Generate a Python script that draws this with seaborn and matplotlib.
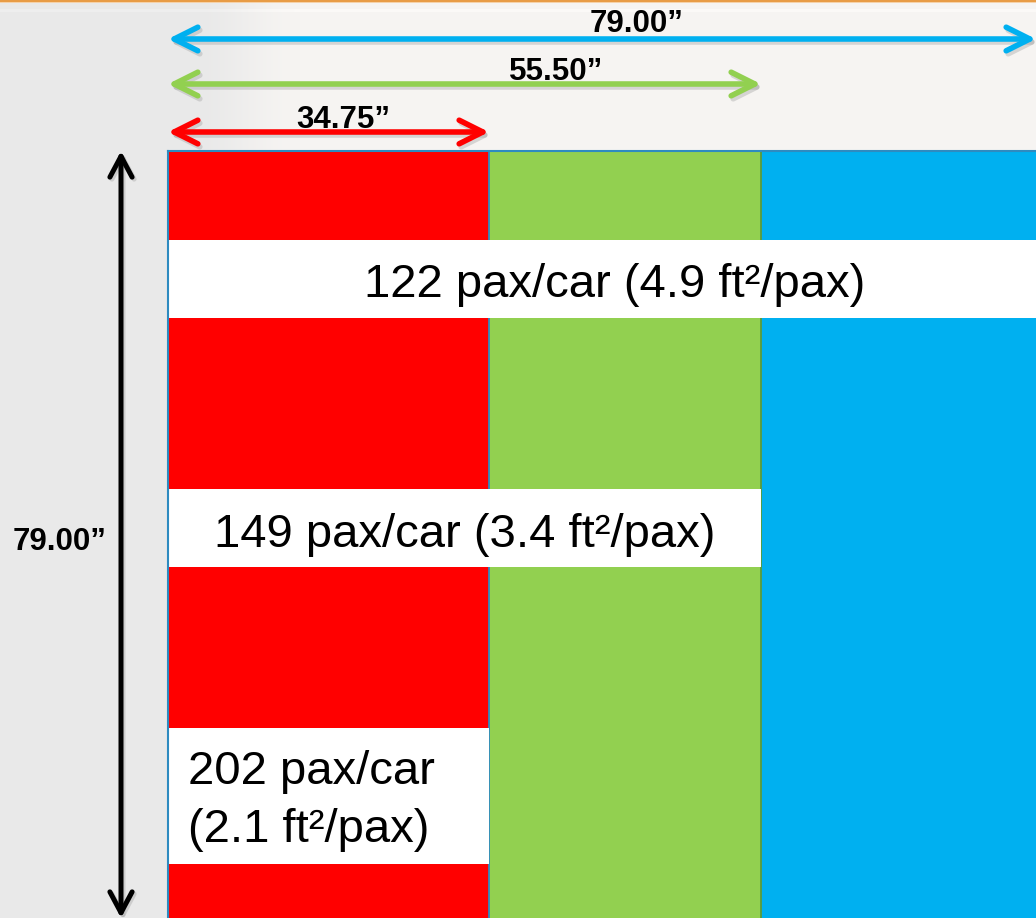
import numpy as np
import matplotlib
matplotlib.use("Agg")
import matplotlib.pyplot as plt
import seaborn as sns
from matplotlib.patches import FancyArrowPatch, ArrowStyle
from matplotlib.transforms import Affine2D, blended_transform_factory, offset_copy

# ---------------- data ----------------
widths_in = [34.75, 55.50, 79.00]          # car interior widths (inches)
depth_in = 79.00                            # depth shown on the vertical arrow (inches)
pax_per_car = [202, 149, 122]
ft2_per_pax = [2.1, 3.4, 4.9]
colors = ["#ff0000", "#92d050", "#00b0f0"]

# ---------------- layout (pixels / drawing only) ----------------
W, H = 1036, 918
box_left, box_top, box_right = 168, 151, 1036
drawn_px = [0, 321, 593, 868]               # drawn offsets of 0 / 34.75 / 55.5 / 79 in
band_center = [66.4, 38.8, 13.2]            # label bands (inches from top)
band_height = [14.0, 8.0, 8.0]
arrow_y_px = [132, 84, 39]
dimlab_px = [(343, 128), (556, 80), (637, 32)]

sns.set_theme(style="white")
plt.rcParams['font.family'] = ['Liberation Sans', 'DejaVu Sans']

fig = plt.figure(figsize=(W / 100, H / 100), dpi=100)
fig.patch.set_facecolor('#e9e9e9')
PX = Affine2D().scale(1 / W, -1 / H).translate(0, 1) + fig.transFigure

# ---------------- background ----------------
bg = fig.add_axes([0, 0, 1, 1], zorder=0)
bg.set_axis_off()
xx = np.arange(W)
fx = np.clip((xx - 190) / 110.0, 0, 1)
fx = fx * fx * (3 - 2 * fx)
base = np.array([233, 233, 233]) / 255.0
light = np.array([246, 244, 242]) / 255.0
img = np.ones((H, W, 3)) * base
img = img + (light - base)[None, None, :] * fx[None, :, None]
img[0:2, :, :] = np.array([232, 156, 70]) / 255.0
img[2, :, :] = np.array([245, 210, 170]) / 255.0
img[9:12, :, :] = np.clip(img[9:12, :, :] + 0.02, 0, 1)
bg.imshow(img, extent=(0, W, H, 0), aspect='auto', interpolation='bilinear')
bg.set_xlim(0, W)
bg.set_ylim(H, 0)

# ---------------- main axes (inches, piecewise drawn scale) ----------------
knots_in = [0.0] + widths_in
ax = fig.add_axes([box_left / W, 0, (box_right - box_left) / W, (H - box_top) / H], zorder=1)
ax.set_facecolor('none')
ax.set_xscale('function', functions=(lambda v: np.interp(v, knots_in, drawn_px),
                                     lambda p: np.interp(p, drawn_px, knots_in)))
ax.set_xlim(0, widths_in[-1])
ax.set_ylim(depth_in, 0)

edge = '#2e8bc0'
for w, c in sorted(zip(widths_in, colors), reverse=True):
    ax.bar(0, depth_in, width=w, align='edge', color=c, edgecolor='none',
           linewidth=0, zorder=1)
ax.vlines(widths_in[0], 0, depth_in, color=edge, linewidth=1.3, zorder=1.5)
ax.vlines(widths_in[1], 0, depth_in, color='#5a9a3a', linewidth=1.3, zorder=1.5)

ax.barh(band_center, widths_in, height=band_height, left=0, color='white',
        edgecolor='none', zorder=2)

ax.set_xticks([])
ax.set_yticks([])
for s in ['right', 'bottom']:
    ax.spines[s].set_visible(False)
for s in ['left', 'top']:
    ax.spines[s].set_color(edge)
    ax.spines[s].set_linewidth(1.5)
    ax.spines[s].set_zorder(3)

# ---------------- labels in bands ----------------
lab = [f"{p} pax/car ({d} ft\u00b2/pax)" for p, d in zip(pax_per_car, ft2_per_pax)]
fs = 34
fig.text(615 / W, 1 - 297 / H, lab[2], ha='center', va='baseline', fontsize=fs, color='black', zorder=5)
fig.text(465 / W, 1 - 547 / H, lab[1], ha='center', va='baseline', fontsize=fs, color='black', zorder=5)
l1, l2 = f"{pax_per_car[0]} pax/car", f"({ft2_per_pax[0]} ft\u00b2/pax)"
fig.text(188 / W, 1 - 784 / H, l1, ha='left', va='baseline', fontsize=fs, color='black', zorder=5)
fig.text(188 / W, 1 - 842 / H, l2, ha='left', va='baseline', fontsize=fs, color='black', zorder=5)

# ---------------- dimension arrows ----------------
blend_h = blended_transform_factory(ax.transData, PX)
for w, c, yp in zip(widths_in, colors, arrow_y_px):
    for shadow in (True, False):
        tr = offset_copy(blend_h, fig=fig, x=2, y=-3, units='dots') if shadow else blend_h
        a = FancyArrowPatch((0, yp), (w, yp), transform=tr,
                            arrowstyle=ArrowStyle('<->', head_length=17, head_width=8.5),
                            mutation_scale=1, shrinkA=0, shrinkB=0,
                            color=('#9a9a9a' if shadow else c), alpha=(0.35 if shadow else 1),
                            linewidth=4, capstyle='round', joinstyle='round', clip_on=False,
                            zorder=4)
        fig.add_artist(a)

for w, (xp, yp) in zip(widths_in, dimlab_px):
    fig.text(xp / W, 1 - yp / H, f"{w:.2f}\u201d", ha='center', va='baseline',
             fontsize=22.5, fontweight='bold', color='black', zorder=5)

blend_v = blended_transform_factory(PX, ax.transData)
for shadow in (True, False):
    tr = offset_copy(blend_v, fig=fig, x=2, y=-2, units='dots') if shadow else blend_v
    va_ = FancyArrowPatch((121, 0), (121, depth_in), transform=tr,
                          arrowstyle=ArrowStyle('<->', head_length=15, head_width=8),
                          mutation_scale=1, shrinkA=0, shrinkB=0,
                          color=('#9a9a9a' if shadow else 'black'), alpha=(0.35 if shadow else 1),
                          linewidth=3.6, capstyle='round', joinstyle='round', clip_on=False,
                          zorder=4)
    fig.add_artist(va_)
fig.text(60 / W, 1 - 550 / H, f"{depth_in:.2f}\u201d", ha='center', va='baseline',
         fontsize=22.5, fontweight='bold', color='black', zorder=5)

fig.savefig("out.png", dpi=100, facecolor=fig.get_facecolor())
